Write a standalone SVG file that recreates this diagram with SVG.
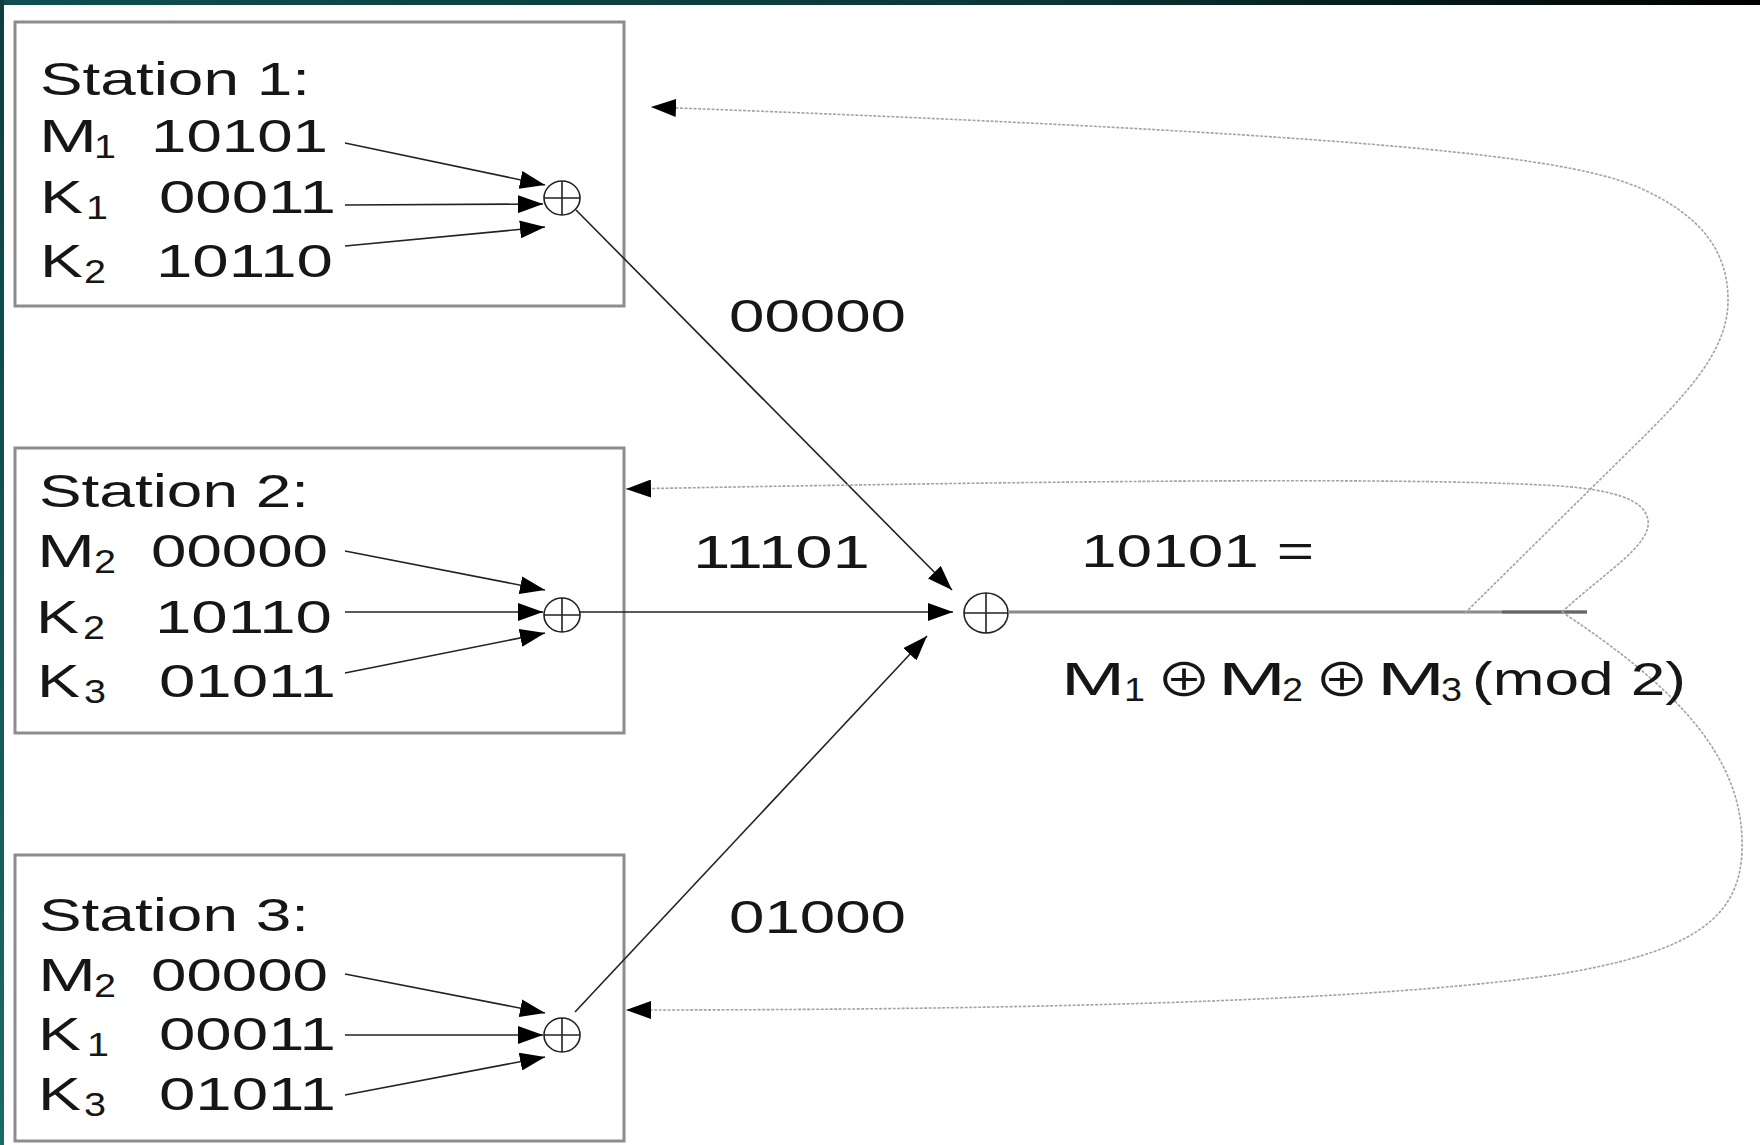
<svg xmlns="http://www.w3.org/2000/svg" width="1760" height="1145" viewBox="0 0 1760 1145">
<style>
.t{font-family:"Liberation Sans",Arial,sans-serif;font-size:47px;fill:#161616}
.s{font-family:"Liberation Sans",Arial,sans-serif;font-size:33px;fill:#161616}
.op{font-family:"Noto Sans CJK SC","DejaVu Sans",sans-serif;font-size:46px;fill:#161616}
.box{fill:#fff;stroke:#8c8c8c;stroke-width:3}
.ln{fill:none;stroke:#222;stroke-width:1.6}
.fb{fill:none;stroke:#a3a3a3;stroke-width:1.6;stroke-dasharray:3 1.5}
.xor{fill:none;stroke:#222;stroke-width:1.6}
</style>
<defs>
<marker id="ah" markerUnits="userSpaceOnUse" viewBox="0 0 25 18" markerWidth="25" markerHeight="18" refX="25" refY="9" orient="auto">
<path d="M0,0 L25,9 L0,18 Z" fill="#000"/>
</marker>
<linearGradient id="topg" x1="0" y1="0" x2="1" y2="0">
<stop offset="0" stop-color="#0f4f4f"/>
<stop offset="0.6" stop-color="#0a3535"/>
<stop offset="1" stop-color="#000"/>
</linearGradient>
<linearGradient id="leftg" x1="0" y1="0" x2="0" y2="1">
<stop offset="0" stop-color="#0d3f3f"/>
<stop offset="1" stop-color="#1b6a6a"/>
</linearGradient>
</defs>
<rect x="0" y="0" width="1760" height="1145" fill="#fff"/>
<rect x="0" y="0" width="1760" height="5" fill="url(#topg)"/>
<rect x="0" y="0" width="4" height="1145" fill="url(#leftg)"/>

<g id="station1">
<rect class="box" x="15" y="22" width="609" height="284"/>
<text class="t" x="40" y="95" textLength="270" lengthAdjust="spacingAndGlyphs">Station 1:</text>
<text class="t" x="39" y="152" textLength="58" lengthAdjust="spacingAndGlyphs">M</text>
<text class="s" x="94" y="158" textLength="22" lengthAdjust="spacingAndGlyphs">1</text>
<text class="t" x="151" y="152" textLength="177" lengthAdjust="spacingAndGlyphs">10101</text>
<text class="t" x="40" y="213" textLength="43" lengthAdjust="spacingAndGlyphs">K</text>
<text class="s" x="86" y="219" textLength="22" lengthAdjust="spacingAndGlyphs">1</text>
<text class="t" x="159" y="213" textLength="177" lengthAdjust="spacingAndGlyphs">00011</text>
<text class="t" x="40" y="277" textLength="43" lengthAdjust="spacingAndGlyphs">K</text>
<text class="s" x="84" y="283" textLength="22" lengthAdjust="spacingAndGlyphs">2</text>
<text class="t" x="156" y="277" textLength="177" lengthAdjust="spacingAndGlyphs">10110</text>
<ellipse class="xor" cx="562" cy="198" rx="18" ry="17"/>
<path class="xor" d="M544,198 H580 M562,181 V215"/>
</g>

<g id="station2">
<rect class="box" x="15" y="448" width="609" height="285"/>
<text class="t" x="39" y="507" textLength="270" lengthAdjust="spacingAndGlyphs">Station 2:</text>
<text class="t" x="37" y="567" textLength="58" lengthAdjust="spacingAndGlyphs">M</text>
<text class="s" x="94" y="573" textLength="22" lengthAdjust="spacingAndGlyphs">2</text>
<text class="t" x="151" y="567" textLength="177" lengthAdjust="spacingAndGlyphs">00000</text>
<text class="t" x="36" y="633" textLength="43" lengthAdjust="spacingAndGlyphs">K</text>
<text class="s" x="83" y="639" textLength="22" lengthAdjust="spacingAndGlyphs">2</text>
<text class="t" x="155" y="633" textLength="177" lengthAdjust="spacingAndGlyphs">10110</text>
<text class="t" x="37" y="697" textLength="43" lengthAdjust="spacingAndGlyphs">K</text>
<text class="s" x="84" y="703" textLength="22" lengthAdjust="spacingAndGlyphs">3</text>
<text class="t" x="159" y="697" textLength="177" lengthAdjust="spacingAndGlyphs">01011</text>
<ellipse class="xor" cx="562" cy="615" rx="18" ry="17"/>
<path class="xor" d="M544,615 H580 M562,598 V632"/>
</g>

<g id="station3">
<rect class="box" x="15" y="855" width="609" height="286"/>
<text class="t" x="39" y="931" textLength="270" lengthAdjust="spacingAndGlyphs">Station 3:</text>
<text class="t" x="38" y="991" textLength="58" lengthAdjust="spacingAndGlyphs">M</text>
<text class="s" x="94" y="997" textLength="22" lengthAdjust="spacingAndGlyphs">2</text>
<text class="t" x="151" y="991" textLength="177" lengthAdjust="spacingAndGlyphs">00000</text>
<text class="t" x="38" y="1050" textLength="43" lengthAdjust="spacingAndGlyphs">K</text>
<text class="s" x="87" y="1056" textLength="22" lengthAdjust="spacingAndGlyphs">1</text>
<text class="t" x="159" y="1050" textLength="177" lengthAdjust="spacingAndGlyphs">00011</text>
<text class="t" x="38" y="1110" textLength="43" lengthAdjust="spacingAndGlyphs">K</text>
<text class="s" x="84" y="1116" textLength="22" lengthAdjust="spacingAndGlyphs">3</text>
<text class="t" x="159" y="1110" textLength="177" lengthAdjust="spacingAndGlyphs">01011</text>
<ellipse class="xor" cx="562" cy="1035" rx="18" ry="17"/>
<path class="xor" d="M544,1035 H580 M562,1018 V1052"/>
</g>

<g id="xor-center">
<ellipse class="xor" cx="986" cy="613" rx="22" ry="20"/>
<path class="xor" d="M964,613 H1008 M986,593 V633"/>
</g>

<g id="connectors">
<path class="ln" d="M345,143 L545,185" marker-end="url(#ah)"/>
<path class="ln" d="M345,205 L543,204" marker-end="url(#ah)"/>
<path class="ln" d="M345,246 L545,227" marker-end="url(#ah)"/>
<path class="ln" d="M345,551 L545,590" marker-end="url(#ah)"/>
<path class="ln" d="M345,612 L543,612" marker-end="url(#ah)"/>
<path class="ln" d="M345,673 L545,633" marker-end="url(#ah)"/>
<path class="ln" d="M345,974 L545,1013" marker-end="url(#ah)"/>
<path class="ln" d="M345,1035 L543,1035" marker-end="url(#ah)"/>
<path class="ln" d="M345,1095 L545,1057" marker-end="url(#ah)"/>
<path class="ln" d="M576,210 L952,590" marker-end="url(#ah)"/>
<path class="ln" d="M580,612 L953,612" stroke="#555" marker-end="url(#ah)"/>
<path class="ln" d="M575,1012 L927,636" marker-end="url(#ah)"/>
<path d="M1008,612 H1587" fill="none" stroke="#8a8a8a" stroke-width="3"/>
<path d="M1502,612 H1587" fill="none" stroke="#666" stroke-width="3"/>
<path class="fb" d="M1465,613 L1625,455 C1690,392 1728,350 1728,300 C1728,250 1700,215 1640,188 C1570,158 1400,135 651,107" marker-end="url(#ah)"/>
<path class="fb" d="M1562,612 C1605,572 1652,545 1648,520 C1644,498 1610,490 1560,486 C1450,479 1200,478 626,489" marker-end="url(#ah)"/>
<path class="fb" d="M1562,612 C1680,690 1745,760 1742,850 C1740,920 1690,952 1560,974 C1400,998 1100,1010 626,1010" marker-end="url(#ah)"/>
</g>

<g id="labels">
<text class="t" x="729" y="332" textLength="177" lengthAdjust="spacingAndGlyphs">00000</text>
<text class="t" x="693" y="568" textLength="177" lengthAdjust="spacingAndGlyphs">11101</text>
<text class="t" x="1081" y="567" textLength="233" lengthAdjust="spacingAndGlyphs">10101 =</text>
<text class="t" x="729" y="933" textLength="177" lengthAdjust="spacingAndGlyphs">01000</text>
<text class="t" x="1061" y="695" textLength="64" lengthAdjust="spacingAndGlyphs">M</text>
<text class="s" x="1124" y="701" textLength="21" lengthAdjust="spacingAndGlyphs">1</text>
<text class="op" x="1156" y="696" textLength="56" lengthAdjust="spacingAndGlyphs">⊕</text>
<text class="t" x="1218" y="695" textLength="68" lengthAdjust="spacingAndGlyphs">M</text>
<text class="s" x="1282" y="701" textLength="21" lengthAdjust="spacingAndGlyphs">2</text>
<text class="op" x="1314" y="696" textLength="56" lengthAdjust="spacingAndGlyphs">⊕</text>
<text class="t" x="1377" y="695" textLength="68" lengthAdjust="spacingAndGlyphs">M</text>
<text class="s" x="1441" y="701" textLength="21" lengthAdjust="spacingAndGlyphs">3</text>
<text class="t" x="1472" y="695" textLength="214" lengthAdjust="spacingAndGlyphs">(mod 2)</text>
</g>
</svg>
